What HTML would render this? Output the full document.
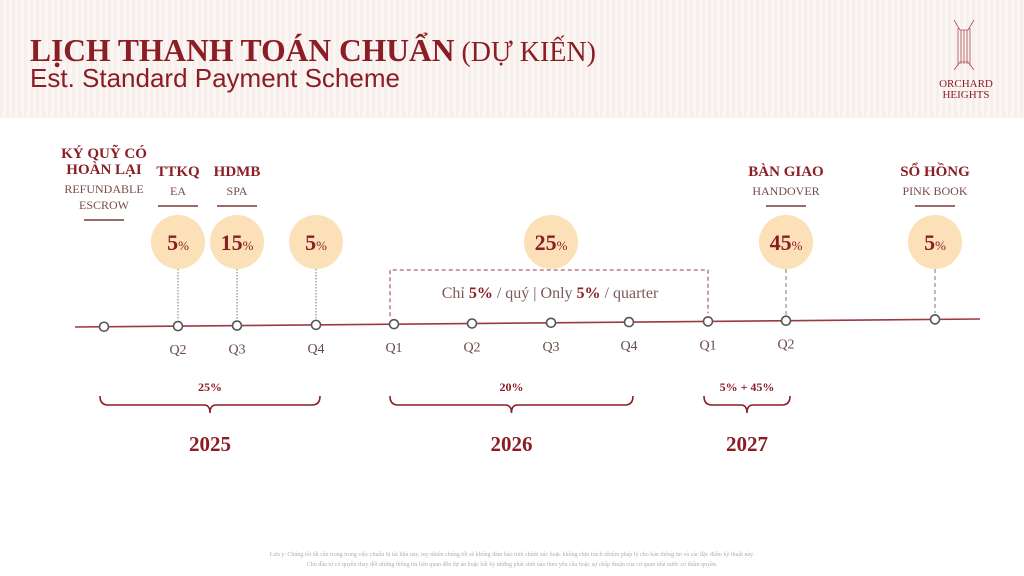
<!DOCTYPE html>
<html><head><meta charset="utf-8"><style>
html,body{margin:0;padding:0;width:1024px;height:576px;overflow:hidden;background:#fff;font-family:"Liberation Serif","Noto Serif CJK SC",serif;}
#hdr{position:absolute;left:0;top:0;width:1024px;height:118px;background:repeating-linear-gradient(90deg,#f7efec 0 3px,#fbf6f4 3px 6px);}
</style></head><body>
<div id="hdr"></div>
<svg id="chart" width="1024" height="576" style="position:absolute;left:0;top:0">
<text x="30" y="61" font-size="31.5" font-weight="bold" fill="#8b1d24">LỊCH THANH TOÁN CHUẨN<tspan font-weight="normal" font-size="28"> (DỰ KIẾN)</tspan></text>
<text x="30" y="87" font-size="26" fill="#8b1d24" font-family="Liberation Sans,sans-serif">Est. Standard Payment Scheme</text>
<g stroke="#b04a52" stroke-width="0.8">
<path d="M954 20 L960 30 L968 30 L974 20 M954 70 L960 62 L968 62 L974 70" fill="none"/>
<line x1="958" y1="28" x2="958" y2="66"/><line x1="961" y1="30" x2="961" y2="64"/><line x1="964" y1="30" x2="964" y2="64"/><line x1="967" y1="30" x2="967" y2="64"/><line x1="970" y1="28" x2="970" y2="66"/>
</g>
<text x="966" y="87" font-size="11" fill="#8b1d24" text-anchor="middle">ORCHARD</text>
<text x="966" y="98" font-size="11" fill="#8b1d24" text-anchor="middle">HEIGHTS</text>
<g id="g"></g>
<text x="512" y="556" font-size="6" fill="#b8aaa5" text-anchor="middle">Lưu ý: Chúng tôi tất cẩn trọng trong việc chuẩn bị tài liệu này, tuy nhiên chúng tôi sẽ không đảm bảo tính chính xác hoặc không chịu trách nhiệm pháp lý cho bản thông tin và các đặc điểm kỹ thuật này.</text>
<text x="512" y="566" font-size="6" fill="#b8aaa5" text-anchor="middle">Chủ đầu tư có quyền thay đổi những thông tin liên quan đến dự án hoặc bất kỳ những phát sinh nào theo yêu cầu hoặc sự chấp thuận của cơ quan nhà nước có thẩm quyền.</text>
</svg>
<script>
const quarterLabels=["","Q2","Q3","Q4","Q1","Q2","Q3","Q4","Q1","Q2","",""];
const nodeX=[104,178,237,316,394,472,551,629,708,786,935];
const payIndex=[1,2,3,6,9,10];
const payValues=["5","15","5","25","45","5"];
const milestoneIndex=[0,1,2,9,10];
const milestoneTitle=[["KÝ QUỸ CÓ","HOÀN LẠI"],["TTKQ"],["HDMB"],["BÀN GIAO"],["SỔ HỒNG"]];
const milestoneSub=[["REFUNDABLE","ESCROW"],["EA"],["SPA"],["HANDOVER"],["PINK BOOK"]];
const braceFrom=[0,4,8], braceTo=[3,7,9];
const braceLabels=["25%","20%","5% + 45%"];
const years=["2025","2026","2027"];
const C="#8b1d24",NS="http://www.w3.org/2000/svg",g=document.getElementById('g');
const lineY=x=>327-(x-75)*8/905;
function mk(t,a,txt){const e=document.createElementNS(NS,t);for(const k in a)e.setAttribute(k,a[k]);if(txt!=null)e.textContent=txt;g.appendChild(e);return e;}
let e=mk('line',{x1:75,y1:327,x2:980,y2:319,stroke:"#9b3a40","stroke-width":1.6});


e=mk('path',{d:`M390 ${lineY(390)-8} V270 H708 V${lineY(708)-8}`,fill:"none",stroke:"#9b3a40","stroke-dasharray":"4 3"});


e=mk('text',{x:550,y:298,"font-size":16,fill:"#7a5a5a","text-anchor":"middle"});
e.innerHTML='Chỉ <tspan font-weight="bold" fill="'+C+'">5%</tspan> / quý | Only <tspan font-weight="bold" fill="'+C+'">5%</tspan> / quarter';


payIndex.forEach((ix,i)=>{const x=nodeX[ix],cy=242;
 if(ix!==6){const l=mk('line',{x1:x,y1:cy+27,x2:x,y2:lineY(x)-6,stroke:"#777","stroke-dasharray":ix>=9?"4 3":"1.5 1.5"});
 
 }
 const c=mk('circle',{cx:x,cy:cy,r:27,fill:"#fbe0b8"});
 
 
 const t=mk('text',{x:x,y:cy+8,"font-size":22,"font-weight":"bold",fill:C,"text-anchor":"middle"});
 t.innerHTML=payValues[i]+'<tspan font-size="13" font-weight="normal">%</tspan>';
 
 
});
nodeX.forEach((x,i)=>{const y=lineY(x);
 const c=mk('circle',{cx:x,cy:y,r:4.5,fill:"#fff",stroke:"#555","stroke-width":1.6});
 
 
 if(quarterLabels[i]){const t=mk('text',{x:x,y:y+28,"font-size":14,fill:"#6a4a4a","text-anchor":"middle"},quarterLabels[i]);
 
 }
});
milestoneIndex.forEach((ix,i)=>{const x=nodeX[ix];let y=milestoneTitle[i].length>1?158:176;
 milestoneTitle[i].forEach(s=>{const t=mk('text',{x:x,y:y,"font-size":15,"font-weight":"bold",fill:C,"text-anchor":"middle"},s);
  
  y+=16;});
 y+=3;
 milestoneSub[i].forEach(s=>{const t=mk('text',{x:x,y:y,"font-size":12,fill:"#7a4a4a","text-anchor":"middle"},s);
  
  y+=16;});
 const l=mk('line',{x1:x-20,y1:y-5,x2:x+20,y2:y-5,stroke:"#7a3a3a","stroke-width":1.5});
 
 
});
braceFrom.forEach((f,i)=>{const a=nodeX[f]-4,b=nodeX[braceTo[i]]+4,m=(a+b)/2;
 const p=mk('path',{d:`M${a} 396 Q${a} 405 ${a+8} 405 H${m-6} Q${m} 405 ${m} 413 Q${m} 405 ${m+6} 405 H${b-8} Q${b} 405 ${b} 396`,fill:"none",stroke:C,"stroke-width":1.6});
 
 
 const t=mk('text',{x:m,y:391,"font-size":12,"font-weight":"bold",fill:C,"text-anchor":"middle"},braceLabels[i]);
 
 
 const y=mk('text',{x:m,y:451,"font-size":21,"font-weight":"bold",fill:C,"text-anchor":"middle"},years[i]);
 
 
});
</script>
</body></html>
